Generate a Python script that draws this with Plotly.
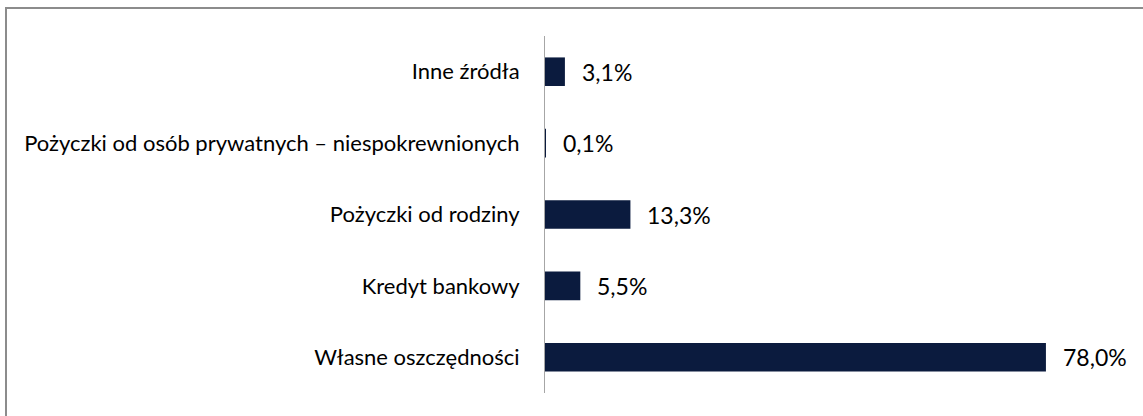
import plotly.graph_objects as go

# Źródła finansowania (udział w %)
categories = [
    "Własne oszczędności",
    "Kredyt bankowy",
    "Pożyczki od rodziny",
    "Pożyczki od osób prywatnych – niespokrewnionych",
    "Inne źródła",
]
values = [78.0, 5.5, 13.3, 0.1, 3.1]
value_labels = [f"{v:.1f}%".replace(".", ",") for v in values]

BAR_COLOR = "#0b1b3e"
FONT = "Lato"

PLOT_LEFT, PLOT_RIGHT_MARGIN, TOP, BOTTOM = 545, 20, 36, 23
PLOT_W = 1143 - PLOT_LEFT - PLOT_RIGHT_MARGIN
PLOT_H = 416 - TOP - BOTTOM

fig = go.Figure()
fig.add_trace(go.Bar(
    x=values,
    y=categories,
    orientation="h",
    marker=dict(color=BAR_COLOR, line=dict(width=0)),
    width=0.4,
    hoverinfo="skip",
))

for v, c, t in zip(values, categories, value_labels):
    fig.add_annotation(
        x=v, y=c, text=t, showarrow=False,
        xanchor="left", yanchor="middle", xshift=15,
        font=dict(family=FONT, size=23, color="#000000"),
    )

# Ramka wykresu (górna i lewa krawędź)
fig.add_shape(
    type="rect", xref="paper", yref="paper",
    x0=(6 - PLOT_LEFT) / PLOT_W, x1=1.2,
    y0=-0.2, y1=1 + (TOP - 8) / PLOT_H,
    line=dict(color="#8c8c8c", width=2), fillcolor="rgba(0,0,0,0)",
    layer="below",
)

fig.update_layout(
    width=1143, height=416,
    margin=dict(l=PLOT_LEFT, r=PLOT_RIGHT_MARGIN, t=TOP, b=BOTTOM),
    paper_bgcolor="white", plot_bgcolor="white",
    showlegend=False,
    xaxis=dict(range=[0, 90], visible=False, fixedrange=True),
    yaxis=dict(
        categoryorder="array", categoryarray=categories,
        showline=True, linecolor="#a6a6a6", linewidth=1,
        ticks="", showgrid=False, zeroline=False,
        ticklabelstandoff=20,
        tickfont=dict(family=FONT, size=22, color="#000000"),
        fixedrange=True,
    ),
)

fig.write_html("out.html")
